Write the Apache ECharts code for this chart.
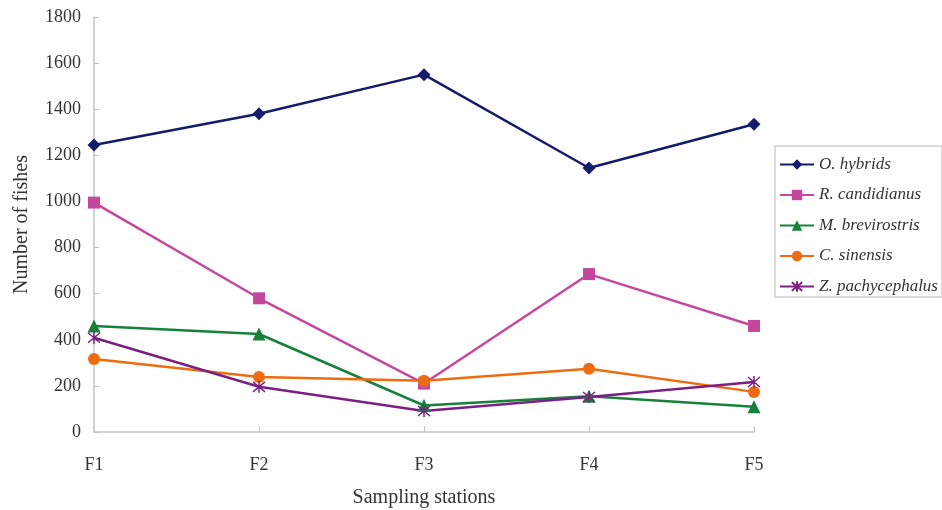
<!DOCTYPE html>
<html><head><meta charset="utf-8">
<script src="https://cdn.jsdelivr.net/npm/echarts@6/dist/echarts.min.js"></script>
<style>html,body{margin:0;padding:0;background:#fff}#c{width:942px;height:510px}</style>
</head><body><div id="c"></div>
<script>
var stations = ['F1','F2','F3','F4','F5'];
var yTicks = [0,200,400,600,800,1000,1200,1400,1600,1800];
var oHybrids = [1245,1380,1550,1145,1335];
var rCandidianus = [995,580,210,685,460];
var mBrevirostris = [460,425,115,155,110];
var cSinensis = [317,239,222,274,174];
var zPachycephalus = [409,196,91,152,217];

var font = 'Liberation Serif';
var asterisk = 'path://M0,0L10,10M10,0L0,10M5,-1L5,11';
function mk(name, data, color, symbol, size, extra){
  return {
    name: name, type: 'line', data: data, symbol: symbol, symbolSize: size,
    showAllSymbol: true,
    lineStyle: {color: color, width: 2.5},
    itemStyle: Object.assign({color: color}, extra || {}),
    emphasis: {disabled: true}, animation: false
  };
}
var chart = echarts.init(document.getElementById('c'));
chart.setOption({
  animation: false,
  grid: {left: 94, right: 188, top: 17, bottom: 78, containLabel: false, outerBoundsMode: 'none'},
  xAxis: {
    type: 'category', data: stations, boundaryGap: false,
    name: 'Sampling stations', nameLocation: 'middle', nameGap: 56,
    nameTextStyle: {fontFamily: font, fontSize: 20, color: '#333'},
    axisLine: {lineStyle: {color: '#c4c4c4', width: 1.5}},
    axisTick: {inside: true, length: 6, lineStyle: {color: '#c4c4c4'}},
    axisLabel: {fontFamily: font, fontSize: 18, color: '#333', margin: 24},
    splitLine: {show: false}
  },
  yAxis: {
    type: 'value', min: 0, max: 1800, interval: 200,
    name: 'Number of fishes', nameLocation: 'middle', nameGap: 62, nameRotate: 90,
    nameTextStyle: {fontFamily: font, fontSize: 20, color: '#333'},
    axisLine: {show: true, lineStyle: {color: '#c4c4c4', width: 1.5}},
    axisTick: {show: true, inside: true, length: 5, lineStyle: {color: '#c4c4c4'}},
    axisLabel: {fontFamily: font, fontSize: 18, color: '#333', margin: 13,
      formatter: function(v){ return yTicks.indexOf(v) >= 0 ? String(v) : ''; }},
    splitLine: {show: false}
  },
  legend: {
    orient: 'vertical', left: 775, top: 146,
    backgroundColor: '#fff',
    borderColor: '#cfcfcf', borderWidth: 1.5,
    padding: [10, 4, 2, 4],
    itemWidth: 34, itemHeight: 13, itemGap: 13.5,
    textStyle: {fontFamily: font, fontSize: 17, fontStyle: 'italic', color: '#333', lineHeight: 16},
    data: ['O. hybrids','R. candidianus','M. brevirostris','C. sinensis','Z. pachycephalus']
  },
  series: [
    mk('O. hybrids', oHybrids, '#141b6b', 'diamond', 13),
    mk('R. candidianus', rCandidianus, '#c4489e', 'rect', 12),
    mk('M. brevirostris', mBrevirostris, '#17803b', 'triangle', 13),
    mk('C. sinensis', cSinensis, '#ee6c10', 'circle', 12),
    mk('Z. pachycephalus', zPachycephalus, '#7a2084', asterisk, 12, {borderColor: '#7a2084', borderWidth: 1.5})
  ]
});
</script></body></html>
